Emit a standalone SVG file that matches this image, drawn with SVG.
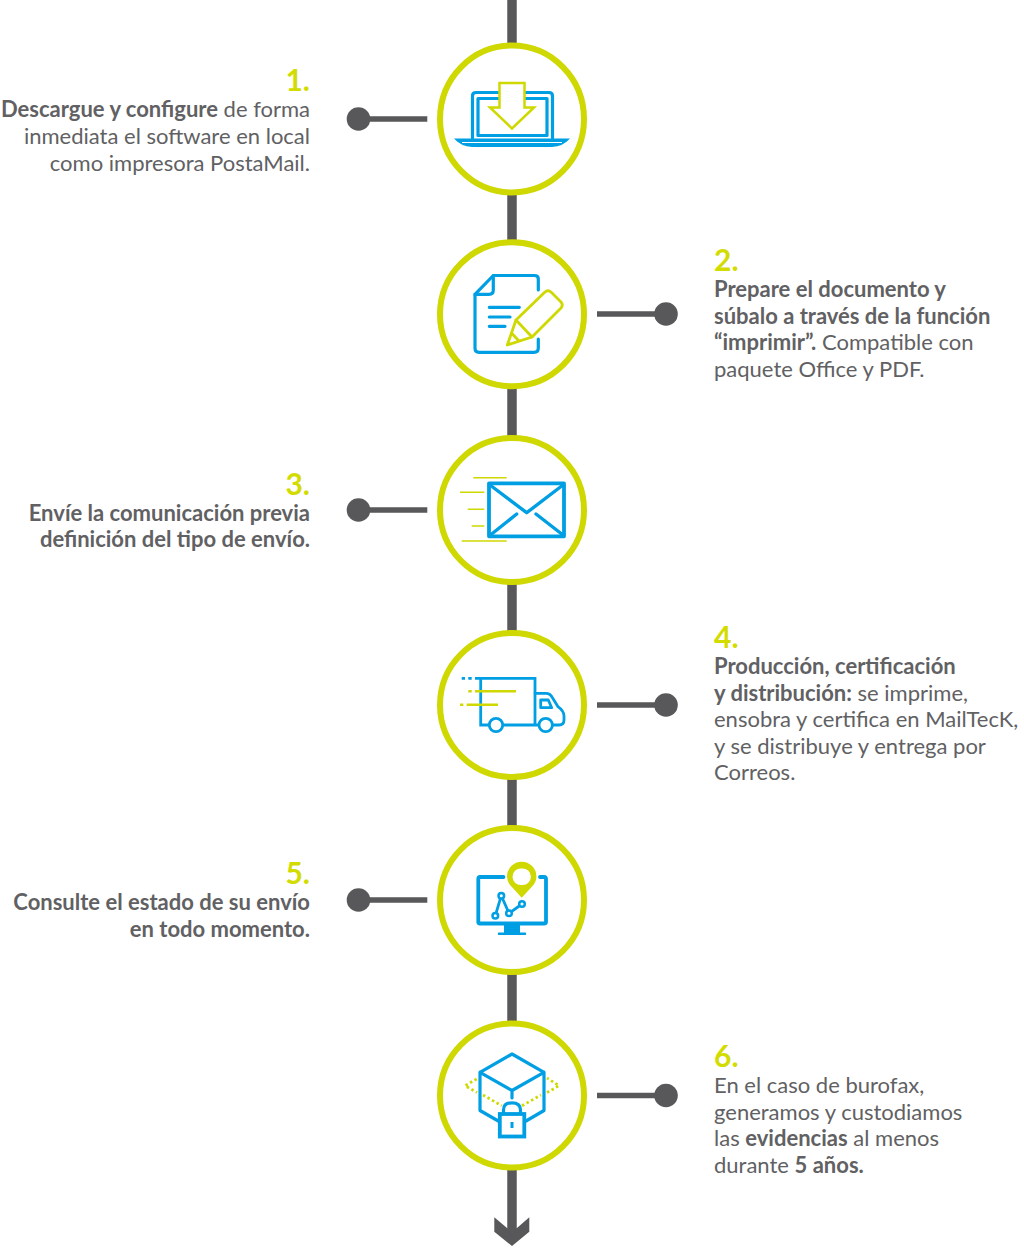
<svg xmlns="http://www.w3.org/2000/svg" width="1024" height="1250" viewBox="0 0 1024 1250">
<style>
.ring{fill:#fff;stroke:#cfd800;stroke-width:6}
.b{fill:none;stroke:#009fe3;stroke-width:3.2;stroke-linecap:round;stroke-linejoin:round}
.y{fill:none;stroke:#cfd800;stroke-width:2.8;stroke-linejoin:round;stroke-linecap:round}
.yl{fill:none;stroke:#cfd800;stroke-width:1.6}
.cn{stroke:#58585a;stroke-width:5.500;fill:none}
.dot{fill:#58585a}
text{font-family:Lato,"Open Sans",sans-serif;font-size:22px;fill:#616163}
.e{text-anchor:end}
.n{font-size:30px;font-weight:700;fill:#d3dc00}
.s{font-weight:700}
</style>
<g id="connectors">
<path d="M512 0V1235" fill="none" stroke="#58585a" stroke-width="9.500"/>
<path d="M494.300 1217.300L507.300 1228.300H516.700L529.300 1217.300V1231.700L512 1246L494.300 1231.700Z" fill="#58585a"/>
<path class="cn" d="M359 119H427.300M359 510H427.300M359 900H427.300M597 314H666M597 705H666M597 1095.500H666"/>
<circle class="dot" cx="358.500" cy="119" r="11.800"/><circle class="dot" cx="358.500" cy="510" r="11.800"/><circle class="dot" cx="358.500" cy="900" r="11.800"/>
<circle class="dot" cx="666" cy="314" r="11.800"/><circle class="dot" cx="666" cy="705" r="11.800"/><circle class="dot" cx="666" cy="1095.500" r="11.800"/>
</g>
<g id="node1">
<ellipse class="ring" cx="512" cy="119" rx="72" ry="73.500"/>
<path class="b" d="M472.500 138V96Q472.500 92.500 476 92.500H549Q552.500 92.500 552.500 96V138"/>
<rect class="b" x="478" y="98.500" width="69" height="37" stroke-linejoin="miter"/>
<path d="M454 138.500H570Q563 146.500 552 147H472Q461 146.500 454 138.500Z" fill="#009fe3"/>
<path d="M462 142.500H562" stroke="#fff" stroke-width="1" fill="none"/>
<path d="M499.500 83H524.500V107.500H534L512 128.500L490 107.500H499.500Z" fill="#fff" stroke="#cfd800" stroke-width="2.500"/>
<text class="n e" x="310" y="91">1.</text>
<text class="e" x="310" y="117"><tspan class="s">Descargue y configure</tspan> de forma</text>
<text class="e" x="310" y="144">inmediata el software en local</text>
<text class="e" x="310" y="170.500">como impresora PostaMail.</text>
</g>
<g id="node2">
<circle class="ring" cx="512" cy="314.300" r="72"/>
<path class="b" d="M538.300 290V279Q538.300 275.500 534.500 275.500H493.300L475 294.300V348Q475 352.300 479 352.300H534Q538.300 352.300 538.300 348V339"/>
<path class="b" d="M493.300 275.500V290Q493.300 294.300 489 294.300H475"/>
<path class="b" d="M489.300 307.300H519.300M489.300 317H510M489.300 326.300H505"/>
<path class="y" d="M507.300 345L516 320L545 292Q548 289.500 551 292L561 302Q563.500 305 561 308L532 337Z"/>
<path class="y" d="M516 320L532 337M511.500 333L518.500 340.500"/>
<text class="n" x="714" y="271">2.</text>
<text x="714" y="297" class="s">Prepare el documento y</text>
<text x="714" y="323.500" class="s">súbalo a través de la función</text>
<text x="714" y="350"><tspan class="s">“imprimir”.</tspan> Compatible con</text>
<text x="714" y="377">paquete Office y PDF.</text>
</g>
<g id="node3">
<circle class="ring" cx="512" cy="510" r="72"/>
<rect class="b" style="stroke-width:3.800" x="489" y="483.300" width="75" height="53"/>
<path class="b" style="stroke-width:3.400" d="M490 485L526.700 512.700L563 485M491.700 534L516.700 514M536 514L561.700 534"/>
<path class="yl" d="M473.300 477.700H506.700M460 492.300H484.300M467.700 509.300H484.300M471.700 526H484.300M461.700 541H506.700"/>
<text class="n e" x="310" y="495">3.</text>
<text class="e s" x="310" y="521">Envíe la comunicación previa</text>
<text class="e s" x="310" y="547">definición del tipo de envío.</text>
</g>
<g id="node4">
<circle class="ring" cx="512" cy="705" r="72"/>
<path class="b" style="stroke-width:2.800;stroke-linecap:butt;stroke-linejoin:miter" d="M461.700 678.300H465M468.300 678.300H471.700M475 678.300H535V725H538M480.700 678.300V725H489M503 725H535"/>
<path class="b" style="stroke-width:2.800" d="M535 693.300H546Q550 693.300 552 697L558 706.700Q564 711 564 716V720Q564 725 559 725H553"/>
<path class="b" style="stroke-width:2.800" d="M540.700 700H548.300L551.700 707.700H540.700Z"/>
<circle class="b" style="stroke-width:2.800" cx="496" cy="725" r="6.700"/>
<circle class="b" style="stroke-width:2.800" cx="545.700" cy="725" r="6.700"/>
<path d="M468.300 691.300H471.700M475 691.300H516M460 704.700H463.300M466.700 704.700H498" fill="none" stroke="#cfd800" stroke-width="2.500"/>
<text class="n" x="714" y="648">4.</text>
<text x="714" y="674" class="s">Producción, certificación</text>
<text x="714" y="701"><tspan class="s">y distribución:</tspan> se imprime,</text>
<text x="714" y="727">ensobra y certifica en MailTecK,</text>
<text x="714" y="754">y se distribuye y entrega por</text>
<text x="714" y="780">Correos.</text>
</g>
<g id="node5">
<circle class="ring" cx="512" cy="900" r="72"/>
<path d="M503.500 877H480Q478.300 877 478.300 879V922Q478.300 923.500 480 923.500H544Q546 923.500 546 922V879Q546 877 544 877H540" fill="none" stroke="#009fe3" stroke-width="3.800" stroke-linecap="round"/>
<path d="M504 925H520V932.500H525.500Q527 933.500 525.500 935H498.500Q497 933.500 498.500 932.500H504Z" fill="#009fe3"/>
<path class="b" style="stroke-width:2.800" d="M495.300 915.700L501.300 895.700L509 913.300L522 904"/>
<g fill="#fff" stroke="#009fe3" stroke-width="2.500"><circle cx="495.300" cy="915.700" r="2.800"/><circle cx="501.300" cy="895.700" r="2.800"/><circle cx="509" cy="913.300" r="2.800"/><circle cx="522" cy="904" r="2.800"/></g>
<path fill-rule="evenodd" d="M521.700 897.700L510.500 885.500Q507 881.500 507 876.500A14.700 14.700 0 0 1 536.400 876.500Q536.400 881.500 533 885.500ZM521.700 868.500A8.300 8.300 0 1 0 521.700 885A8.300 8.300 0 1 0 521.700 868.500Z" fill="#cfd800"/>
<text class="n e" x="310" y="884">5.</text>
<text class="e s" x="310" y="910">Consulte el estado de su envío</text>
<text class="e s" x="310" y="937">en todo momento.</text>
</g>
<g id="node6">
<circle class="ring" cx="512" cy="1095.500" r="72"/>
<path d="M476.700 1079L465 1085.700L477 1092.500M483 1095L501.700 1105.700M522 1105.700L541 1095M547 1092.500L559 1085.700L547 1078" fill="none" stroke="#cfd800" stroke-width="2.800" stroke-dasharray="2.500 2.700"/>
<path class="b" d="M498.300 1121L480 1110.500V1072.300L512 1054L544 1072.300V1110.500L526 1121M480 1072.300L512 1090.500L544 1072.300M512 1090.500V1098"/>
<path class="b" d="M503.500 1113V1110Q503.500 1102.800 512 1102.800Q520.500 1102.800 520.500 1110V1113"/>
<rect x="499.800" y="1114" width="24.500" height="22.500" fill="#fff" stroke="#009fe3" stroke-width="3.800"/>
<path d="M512 1122V1128" stroke="#009fe3" stroke-width="3" fill="none"/>
<text class="n" x="714" y="1067">6.</text>
<text x="714" y="1093">En el caso de burofax,</text>
<text x="714" y="1120">generamos y custodiamos</text>
<text x="714" y="1146">las <tspan class="s">evidencias</tspan> al menos</text>
<text x="714" y="1173">durante <tspan class="s">5 años.</tspan></text>
</g>
</svg>
